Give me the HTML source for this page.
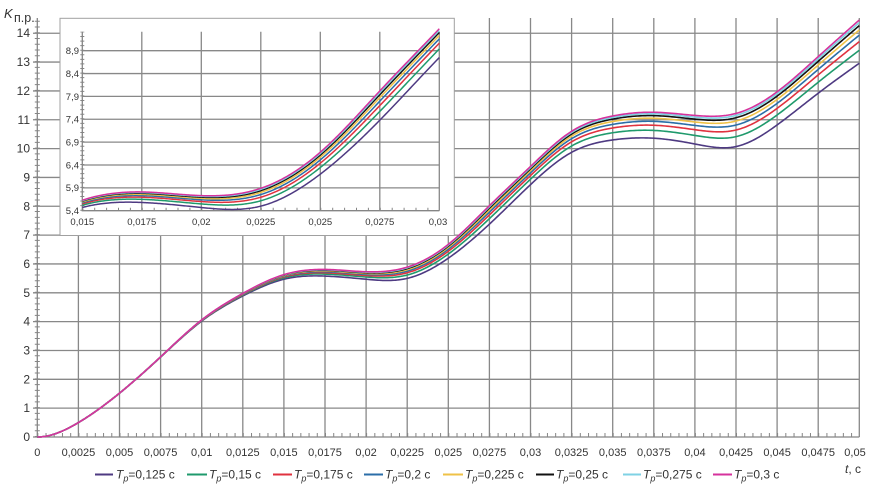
<!DOCTYPE html>
<html><head><meta charset="utf-8"><style>
html,body{margin:0;padding:0;background:#fff;}
svg{display:block;font-family:"Liberation Sans",Arial,sans-serif;}
</style></head><body>
<svg id="s" width="877" height="487" viewBox="0 0 877 487" xmlns="http://www.w3.org/2000/svg">
<rect width="877" height="487" fill="#fff"/>
<!-- main grid -->
<path fill="none" stroke="#888" stroke-width="1.3" d="M78.4 18V437M119.5 18V437M160.6 18V437M201.7 18V437M242.8 18V437M283.9 18V437M325 18V437M366.1 18V437M407.2 18V437M448.3 18V437M489.4 18V437M530.5 18V437M571.6 18V437M612.7 18V437M653.8 18V437M694.9 18V437M736 18V437M777.1 18V437M818.2 18V437M859.3 18V437M37.3 408.16H859.3M37.3 379.32H859.3M37.3 350.48H859.3M37.3 321.64H859.3M37.3 292.8H859.3M37.3 263.96H859.3M37.3 235.12H859.3M37.3 206.28H859.3M37.3 177.44H859.3M37.3 148.6H859.3M37.3 119.76H859.3M37.3 90.92H859.3M37.3 62.08H859.3M37.3 33.24H859.3"/>
<!-- axes -->
<path fill="none" stroke="#858585" stroke-width="1.3" d="M37.3 18V437H859.3"/>
<line x1="37.3" y1="435" x2="859.3" y2="435" stroke="#858585" stroke-width="4" stroke-dasharray="1 7.22"/>
<line x1="37.3" y1="437" x2="37.3" y2="18" stroke="#858585" stroke-width="5" stroke-dasharray="1 4.768"/>
<path fill="none" stroke="#858585" stroke-width="1.3" d="M33 437H37M33 408.16H37M33 379.32H37M33 350.48H37M33 321.64H37M33 292.8H37M33 263.96H37M33 235.12H37M33 206.28H37M33 177.44H37M33 148.6H37M33 119.76H37M33 90.92H37M33 62.08H37M33 33.24H37"/>
<g id="mainCurves" fill="none" stroke-width="1.6"></g>
<!-- y labels -->
<g font-size="12" fill="#333" text-anchor="end">
<text x="30" y="441">0</text><text x="30" y="412.2">1</text><text x="30" y="383.3">2</text><text x="30" y="354.5">3</text><text x="30" y="325.6">4</text><text x="30" y="296.8">5</text><text x="30" y="268">6</text><text x="30" y="239.1">7</text><text x="30" y="210.3">8</text><text x="30" y="181.4">9</text><text x="30" y="152.6">10</text><text x="30" y="123.8">11</text><text x="30" y="94.9">12</text><text x="30" y="66.1">13</text><text x="30" y="37.2">14</text>
</g>
<!-- x labels -->
<g font-size="11" fill="#333" text-anchor="middle">
<text x="37.3" y="456">0</text><text x="78.4" y="456">0,0025</text><text x="119.5" y="456">0,005</text><text x="160.6" y="456">0,0075</text><text x="201.7" y="456">0,01</text><text x="242.8" y="456">0,0125</text><text x="283.9" y="456">0,015</text><text x="325" y="456">0,0175</text><text x="366.1" y="456">0,02</text><text x="407.2" y="456">0,0225</text><text x="448.3" y="456">0,025</text><text x="489.4" y="456">0,0275</text><text x="530.5" y="456">0,03</text><text x="571.6" y="456">0,0325</text><text x="612.7" y="456">0,035</text><text x="653.8" y="456">0,0375</text><text x="694.9" y="456">0,04</text><text x="736" y="456">0,0425</text><text x="777.1" y="456">0,045</text><text x="818.2" y="456">0,0475</text><text x="855" y="456">0,05</text>
</g>
<!-- axis titles -->
<text x="4" y="18" font-size="13" font-style="italic" fill="#333">K</text>
<text x="14" y="22" font-size="12.5" fill="#333">п.р.</text>
<text x="845" y="473" font-size="12" fill="#333"><tspan font-style="italic">t</tspan>, с</text>
<!-- legend -->
<g stroke-width="2">
<line x1="95" y1="474.5" x2="113" y2="474.5" stroke="#4e3a82"/>
<line x1="187" y1="474.5" x2="207" y2="474.5" stroke="#1f9a6c"/>
<line x1="273" y1="474.5" x2="292" y2="474.5" stroke="#e0323f"/>
<line x1="364" y1="474.5" x2="383" y2="474.5" stroke="#2b6ea8"/>
<line x1="443" y1="474.5" x2="463" y2="474.5" stroke="#efc247"/>
<line x1="536" y1="474.5" x2="554" y2="474.5" stroke="#111111"/>
<line x1="623" y1="474.5" x2="641" y2="474.5" stroke="#7fd2e4"/>
<line x1="713" y1="474.5" x2="732" y2="474.5" stroke="#d6329c"/>
</g>
<g font-size="12" fill="#333">
<text x="116" y="478.5"><tspan font-style="italic">T</tspan><tspan font-style="italic" font-size="9" dy="3">p</tspan><tspan dy="-3">=0,125 с</tspan></text>
<text x="209" y="478.5"><tspan font-style="italic">T</tspan><tspan font-style="italic" font-size="9" dy="3">p</tspan><tspan dy="-3">=0,15 с</tspan></text>
<text x="294" y="478.5"><tspan font-style="italic">T</tspan><tspan font-style="italic" font-size="9" dy="3">p</tspan><tspan dy="-3">=0,175 с</tspan></text>
<text x="385" y="478.5"><tspan font-style="italic">T</tspan><tspan font-style="italic" font-size="9" dy="3">p</tspan><tspan dy="-3">=0,2 с</tspan></text>
<text x="465" y="478.5"><tspan font-style="italic">T</tspan><tspan font-style="italic" font-size="9" dy="3">p</tspan><tspan dy="-3">=0,225 с</tspan></text>
<text x="556" y="478.5"><tspan font-style="italic">T</tspan><tspan font-style="italic" font-size="9" dy="3">p</tspan><tspan dy="-3">=0,25 с</tspan></text>
<text x="643" y="478.5"><tspan font-style="italic">T</tspan><tspan font-style="italic" font-size="9" dy="3">p</tspan><tspan dy="-3">=0,275 с</tspan></text>
<text x="734" y="478.5"><tspan font-style="italic">T</tspan><tspan font-style="italic" font-size="9" dy="3">p</tspan><tspan dy="-3">=0,3 с</tspan></text>
</g>
<!-- inset -->
<rect x="60" y="18.3" width="394.3" height="217.2" fill="#fff" stroke="#a0a0a0" stroke-width="1"/>
<path fill="none" stroke="#888" stroke-width="1.3" d="M141.8 31.7V210.7M201.3 31.7V210.7M260.8 31.7V210.7M320.3 31.7V210.7M379.8 31.7V210.7M439.3 31.7V210.7M82.3 187.84H439.3M82.3 164.99H439.3M82.3 142.13H439.3M82.3 119.27H439.3M82.3 96.41H439.3M82.3 73.56H439.3M82.3 50.7H439.3"/>
<path fill="none" stroke="#858585" stroke-width="1.3" d="M82.3 31.7V210.7H439.3"/>
<line x1="82.3" y1="209.2" x2="439.3" y2="209.2" stroke="#858585" stroke-width="3" stroke-dasharray="1 10.9"/>
<line x1="82.3" y1="210.7" x2="82.3" y2="31.7" stroke="#858585" stroke-width="4" stroke-dasharray="1 3.571"/>
<defs><clipPath id="ic"><rect x="82" y="28" width="358" height="184"/></clipPath></defs>
<g id="insetCurves" fill="none" stroke-width="1.5" clip-path="url(#ic)"></g>
<g font-size="9.5" fill="#333" text-anchor="end">
<text x="79" y="214">5,4</text><text x="79" y="191.2">5,9</text><text x="79" y="168.4">6,4</text><text x="79" y="145.5">6,9</text><text x="79" y="122.6">7,4</text><text x="79" y="99.8">7,9</text><text x="79" y="76.9">8,4</text><text x="79" y="54.1">8,9</text>
</g>
<g font-size="9.5" fill="#333" text-anchor="middle">
<text x="82.3" y="225">0,015</text><text x="141.8" y="225">0,0175</text><text x="201.3" y="225">0,02</text><text x="260.8" y="225">0,0225</text><text x="320.3" y="225">0,025</text><text x="379.8" y="225">0,0275</text><text x="438" y="225">0,03</text>
</g>
</svg>
<script>
(function(){
var pink=[0,0.5,1.52,2.78,4.06,4.98,5.63,5.81,5.73,5.89,6.68,8.02,9.38,10.6,11.13,11.26,11.15,11.22,11.97,13.19,14.46];
var purp=[0,0.5,1.52,2.77,4.02,4.89,5.47,5.58,5.47,5.50,6.2,7.38,8.75,9.87,10.30,10.36,10.16,10.07,10.82,11.92,12.96];
var h=0.0025;
function spline(y){
  var n=y.length-1;var a=[],b=[],c=[],d=[];
  a[0]=0;b[0]=2;c[0]=1;d[0]=6*(y[1]-y[0]);
  for(var i=1;i<n;i++){a[i]=1;b[i]=4;c[i]=1;d[i]=6*(y[i-1]-2*y[i]+y[i+1]);}
  a[n]=0;b[n]=1;c[n]=0;d[n]=0;
  for(var i=1;i<=n;i++){var m=a[i]/b[i-1];b[i]-=m*c[i-1];d[i]-=m*d[i-1];}
  var M=[];M[n]=d[n]/b[n];
  for(var i=n-1;i>=0;i--){M[i]=(d[i]-c[i]*M[i+1])/b[i];}
  return M;
}
var Mp=spline(pink),Mq=spline(purp);
function ev(y,M,t){
  var n=y.length-1;var s=t/h;var i=Math.floor(s+1e-9);if(i>=n)i=n-1;if(i<0)i=0;
  var u=s-i,v=1-u;
  return v*y[i]+u*y[i+1]+(v*v*v-v)*M[i]/6+(u*u*u-u)*M[i+1]/6;
}
var series=[
 {w:1,c:"#4e3a82"},{w:0.7,c:"#1f9a6c"},{w:0.5,c:"#e0323f"},{w:0.35,c:"#2b6ea8"},
 {w:0.23,c:"#efc247"},{w:0.13,c:"#111111"},{w:0.06,c:"#7fd2e4"},{w:0,c:"#d6329c"}];
function K(s,t){var a=ev(pink,Mp,t),b=ev(purp,Mq,t);return a-s.w*(a-b);}
var NS="http://www.w3.org/2000/svg";
var gm=document.getElementById("mainCurves"),gi=document.getElementById("insetCurves");
series.forEach(function(s){
  var d="";
  for(var k=0;k<=500;k++){var t=k*0.0001;var x=37.3+t*16440;var y=437-K(s,t)*28.84;d+=(k?"L":"M")+x.toFixed(2)+" "+y.toFixed(2);}
  var p=document.createElementNS(NS,"path");p.setAttribute("d",d);p.setAttribute("stroke",s.c);gm.appendChild(p);
  var d2="";
  for(var k=0;k<=300;k++){var t=0.015+k*0.00005;var x=82.3+(t-0.015)*23800;var y=210.7-(K(s,t)-5.4)*45.71;d2+=(k?"L":"M")+x.toFixed(2)+" "+y.toFixed(2);}
  var p2=document.createElementNS(NS,"path");p2.setAttribute("d",d2);p2.setAttribute("stroke",s.c);gi.appendChild(p2);
});
})();
</script>
</body></html>
